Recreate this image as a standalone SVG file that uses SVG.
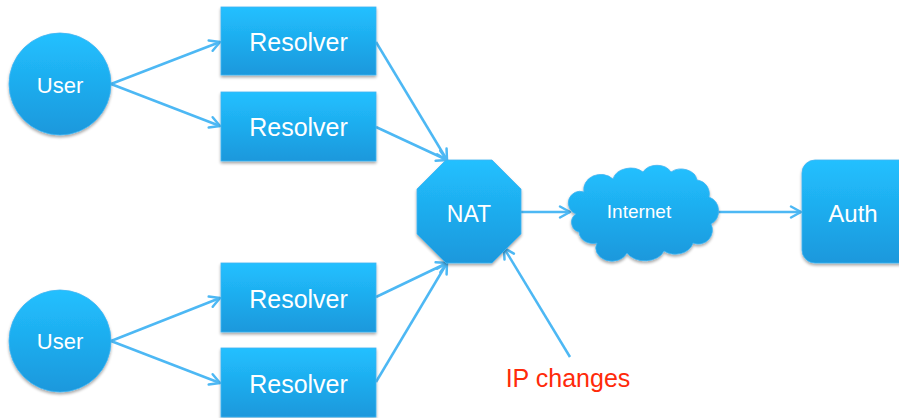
<svg xmlns="http://www.w3.org/2000/svg" width="899" height="418" viewBox="0 0 899 418">
  <defs>
    <linearGradient id="blueFill" x1="0" y1="0" x2="0" y2="1">
      <stop offset="0" stop-color="#22c0ff"/>
      <stop offset="1" stop-color="#1a98dc"/>
    </linearGradient>
    <filter id="shadow" x="-10%" y="-10%" width="120%" height="130%">
      <feGaussianBlur in="SourceAlpha" stdDeviation="1.5"/>
      <feOffset dx="0" dy="2" result="off"/>
      <feComponentTransfer><feFuncA type="linear" slope="0.35"/></feComponentTransfer>
      <feMerge><feMergeNode/><feMergeNode in="SourceGraphic"/></feMerge>
    </filter>
    <marker id="arrow" markerUnits="userSpaceOnUse" markerWidth="14" markerHeight="14" refX="11" refY="6" orient="auto" overflow="visible">
      <path d="M1,0.5 L11,6 L1,11.5" fill="none" stroke="#4db8f4" stroke-width="2.5" stroke-linecap="round" stroke-linejoin="round"/>
    </marker>
  </defs>
  <style>
    .shape { fill: url(#blueFill); stroke: #3fb4f2; stroke-width: 0.8; filter: url(#shadow); }
    .label { fill: #ffffff; font-family: "Liberation Sans", Arial, sans-serif; text-anchor: middle; }
    .edge { fill: none; stroke: #4db8f4; stroke-width: 2.5; marker-end: url(#arrow); }
    .note { fill: #ff2a0a; font-family: "Liberation Sans", Arial, sans-serif; font-size: 25px; text-anchor: middle; }
  </style>

  <g id="connectors">
    <line class="edge" x1="111" y1="84" x2="220" y2="42"/>
    <line class="edge" x1="111" y1="84" x2="220" y2="126"/>
    <line class="edge" x1="111" y1="341" x2="220" y2="298"/>
    <line class="edge" x1="111" y1="341" x2="220" y2="383"/>
    <line class="edge" x1="376" y1="42" x2="447" y2="160"/>
    <line class="edge" x1="376" y1="127" x2="447" y2="160"/>
    <line class="edge" x1="376" y1="297" x2="447" y2="263"/>
    <line class="edge" x1="376" y1="382" x2="447" y2="263"/>
    <line class="edge" x1="521" y1="212" x2="570" y2="212"/>
    <line class="edge" x1="717" y1="212" x2="801" y2="212"/>
    <line class="edge" x1="570" y1="357" x2="504" y2="248"/>
  </g>

  <g id="user-top">
    <circle class="shape" cx="60" cy="84" r="51"/>
    <text class="label" x="60" y="93" font-size="22">User</text>
  </g>
  <g id="user-bottom">
    <circle class="shape" cx="60" cy="341" r="51"/>
    <text class="label" x="60" y="349" font-size="22">User</text>
  </g>

  <g id="resolver-1">
    <rect class="shape" x="221" y="7" width="155" height="68"/>
    <text class="label" x="298.5" y="51" font-size="25">Resolver</text>
  </g>
  <g id="resolver-2">
    <rect class="shape" x="221" y="92" width="155" height="69"/>
    <text class="label" x="298.5" y="136" font-size="25">Resolver</text>
  </g>
  <g id="resolver-3">
    <rect class="shape" x="221" y="263" width="155" height="69"/>
    <text class="label" x="298.5" y="308" font-size="25">Resolver</text>
  </g>
  <g id="resolver-4">
    <rect class="shape" x="221" y="348" width="155" height="69"/>
    <text class="label" x="298.5" y="393" font-size="25">Resolver</text>
  </g>

  <g id="nat">
    <polygon class="shape" points="446,160 492,160 521,189 521,234 492,263 446,263 417,234 417,189"/>
    <text class="label" x="469" y="222" font-size="23">NAT</text>
  </g>

  <g id="internet">
    <path class="shape" d="M576,214 A11,11 0 0 1 584,192 A17,15 0 0 1 613,179 A18,14 0 0 1 643,172 A16,13 0 0 1 671,172 A16,13 0 0 1 697,180 A14,14 0 0 1 709,197 A15,15 0 0 1 711,224 A14,14 0 0 1 693,243 A18,14 0 0 1 664,251 A20,14 0 0 1 627,253 A16,13 0 0 1 597,243 A14,12 0 0 1 579,232 A10,10 0 0 1 576,214 Z"/>
    <text class="label" x="639" y="218" font-size="19">Internet</text>
  </g>

  <g id="auth">
    <rect class="shape" x="802" y="160" width="115" height="103" rx="13" ry="13"/>
    <text class="label" x="853" y="222" font-size="24">Auth</text>
  </g>

  <text class="note" x="568" y="387">IP changes</text>
</svg>
